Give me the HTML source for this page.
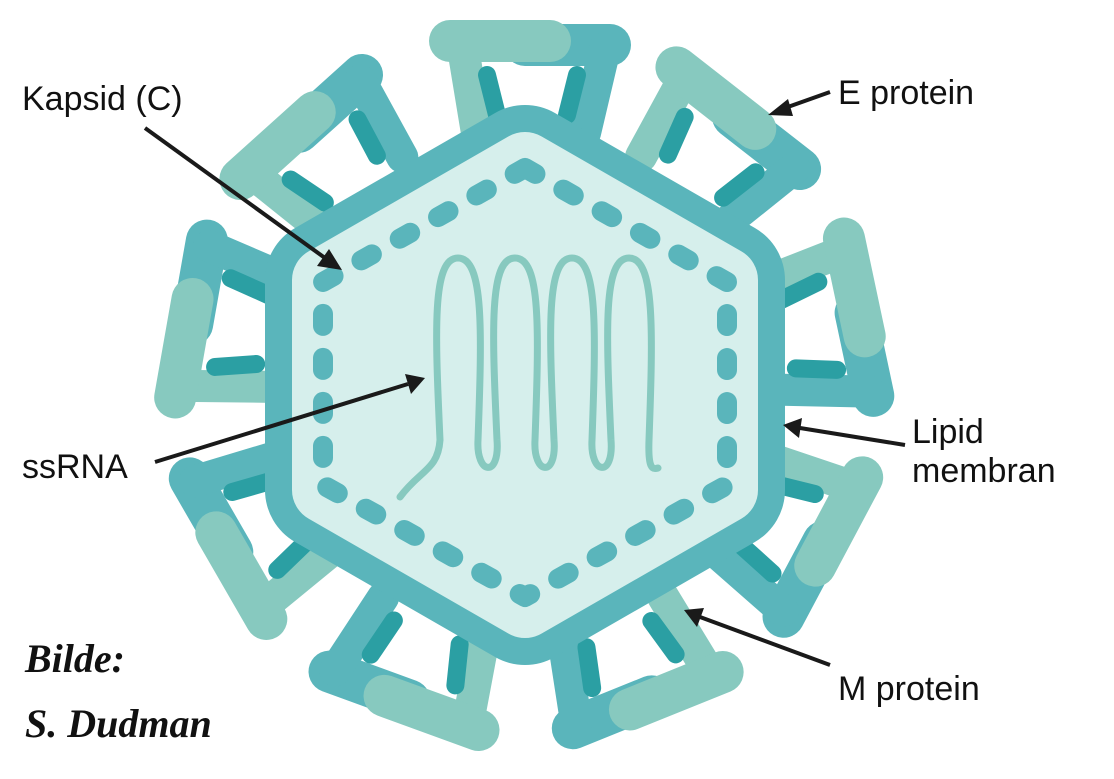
<!DOCTYPE html>
<html><head><meta charset="utf-8"><style>
html,body{margin:0;padding:0;background:#fff;}
svg{display:block}
.t{font-family:"Liberation Sans",sans-serif;font-size:34px;fill:#111}
.s{font-family:"Liberation Serif",serif;font-style:italic;font-weight:bold;font-size:40px;fill:#111}
</style></head><body>
<svg width="1114" height="779" viewBox="0 0 1114 779" xmlns="http://www.w3.org/2000/svg">
<defs>
<g id="sp">
  <line x1="0" y1="-338" x2="85" y2="-338" stroke="#5ab5bb" stroke-width="42" stroke-linecap="round"/>
  <line x1="80" y1="-335" x2="60" y2="-250" stroke="#5ab5bb" stroke-width="32" stroke-linecap="round"/>
  <line x1="-62" y1="-335" x2="-48" y2="-250" stroke="#87c9bf" stroke-width="32" stroke-linecap="round"/>
  <line x1="-75" y1="-342" x2="25" y2="-342" stroke="#87c9bf" stroke-width="42" stroke-linecap="round"/>
  <line x1="-38" y1="-308" x2="-28" y2="-268" stroke="#2b9fa3" stroke-width="18" stroke-linecap="round"/>
  <line x1="52" y1="-308" x2="42" y2="-268" stroke="#2b9fa3" stroke-width="18" stroke-linecap="round"/>
</g>
</defs>
<g transform="translate(525,383)">
  <use href="#sp" transform="rotate(0)"/>
  <use href="#sp" transform="rotate(38)"/>
  <use href="#sp" transform="rotate(78)"/>
  <use href="#sp" transform="rotate(118)"/>
  <use href="#sp" transform="rotate(158)"/>
  <use href="#sp" transform="rotate(200)"/>
  <use href="#sp" transform="rotate(240)"/>
  <use href="#sp" transform="rotate(280)"/>
  <use href="#sp" transform="rotate(318)"/>
</g>
<polygon points="525,165 725,280 725,490 525,605 325,490 325,280" fill="#5ab5bb" stroke="#5ab5bb" stroke-width="120" stroke-linejoin="round"/>
<polygon points="525,165 725,280 725,490 525,605 325,490 325,280" fill="#d6efec" stroke="#d6efec" stroke-width="66" stroke-linejoin="round"/>
<polygon points="525,168 727,282 727,485 525,597 323,485 323,282" fill="none" stroke="#5ab5bb" stroke-width="20" stroke-linecap="round" stroke-linejoin="round" stroke-dasharray="12 32"/>
<path d="M400 497 C420 470 438 470 440 440
C435 330 432 258 458 258 C484 258 482 330 478 440 C476 475 500 478 497 440
C492 330 489 258 515 258 C541 258 539 330 535 440 C533 475 557 478 554 440
C549 330 546 258 572 258 C598 258 596 330 592 440 C590 475 614 478 611 440
C606 330 603 258 629 258 C655 258 653 330 649 440 C648 468 652 470 658 468"
 fill="none" stroke="#87c9bf" stroke-width="7" stroke-linecap="round"/>
<g stroke="#1a1a1a" stroke-width="4" fill="#1a1a1a">
  <line x1="145" y1="128" x2="325" y2="258"/>
  <polygon points="342,270 317,266 329,249" stroke="none"/>
  <line x1="830" y1="92" x2="785" y2="108"/>
  <polygon points="768,115 788,99 793,116" stroke="none"/>
  <line x1="905" y1="445" x2="800" y2="428"/>
  <polygon points="783,425 802,418 799,438" stroke="none"/>
  <line x1="155" y1="462" x2="408" y2="384"/>
  <polygon points="425,378 405,374 411,394" stroke="none"/>
  <line x1="830" y1="665" x2="700" y2="617"/>
  <polygon points="684,610 704,608 697,627" stroke="none"/>
</g>
<text class="t" x="22" y="110">Kapsid (C)</text>
<text class="t" x="838" y="104">E protein</text>
<text class="t" x="912" y="443">Lipid</text>
<text class="t" x="912" y="482">membran</text>
<text class="t" x="22" y="478">ssRNA</text>
<text class="t" x="838" y="700">M protein</text>
<text class="s" x="25" y="672">Bilde:</text>
<text class="s" x="25" y="737">S. Dudman</text>
</svg>
</body></html>
